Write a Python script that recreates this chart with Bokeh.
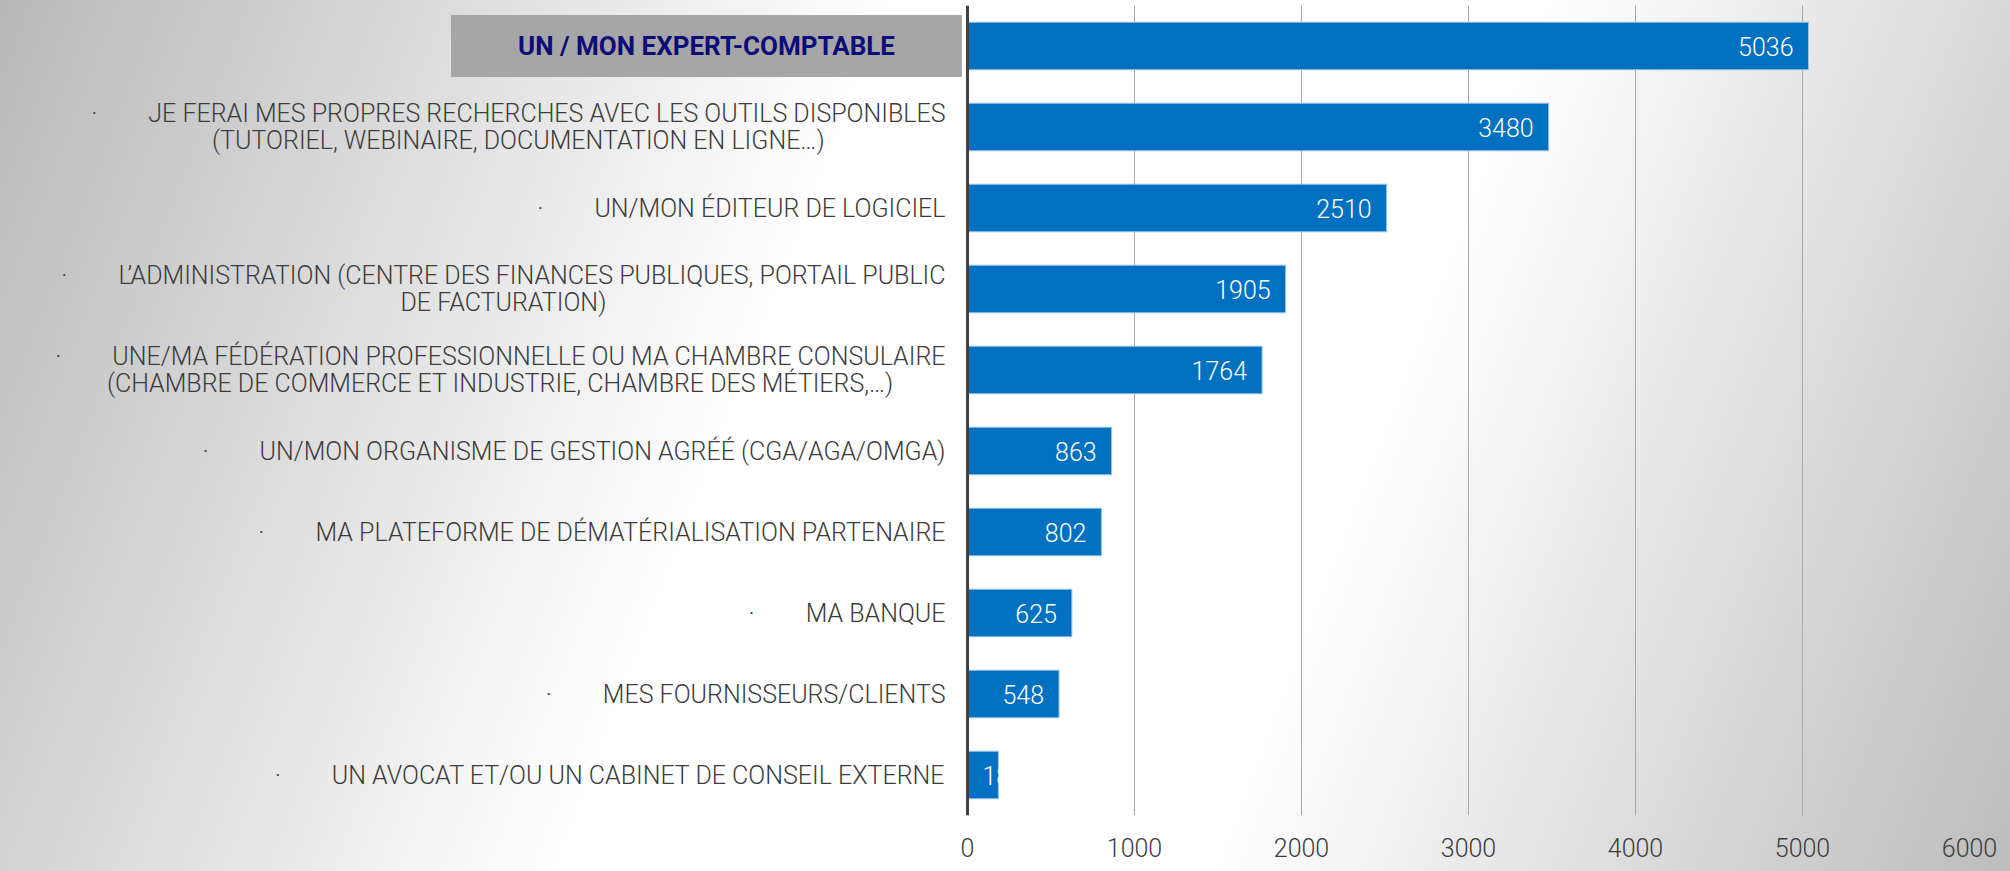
from bokeh.plotting import figure
from bokeh.models import ColumnDataSource, LabelSet, Label, FactorRange, Range1d, FixedTicker, Span
from bokeh.embed import file_html
from bokeh.resources import INLINE
from bokeh.core.properties import value

# ---------------- data ----------------
categories = [
    "UN / MON EXPERT-COMPTABLE",
    "JE FERAI MES PROPRES RECHERCHES AVEC LES OUTILS DISPONIBLES\n(TUTORIEL, WEBINAIRE, DOCUMENTATION EN LIGNE…)",
    "UN/MON ÉDITEUR DE LOGICIEL",
    "L’ADMINISTRATION (CENTRE DES FINANCES PUBLIQUES, PORTAIL PUBLIC\nDE FACTURATION)",
    "UNE/MA FÉDÉRATION PROFESSIONNELLE OU MA CHAMBRE CONSULAIRE\n(CHAMBRE DE COMMERCE ET INDUSTRIE, CHAMBRE DES MÉTIERS,…)",
    "UN/MON ORGANISME DE GESTION AGRÉÉ (CGA/AGA/OMGA)",
    "MA PLATEFORME DE DÉMATÉRIALISATION PARTENAIRE",
    "MA BANQUE",
    "MES FOURNISSEURS/CLIENTS",
    "UN AVOCAT ET/OU UN CABINET DE CONSEIL EXTERNE",
]
counts = [5036, 3480, 2510, 1905, 1764, 863, 802, 625, 548, 185]
x_ticks = [0, 1000, 2000, 3000, 4000, 5000, 6000]
highlighted = categories[0]

FONT = "Roboto Light, Roboto"
TEXT_GREY = "#3c3c3c"
BAR_BLUE = "#0070C0"

# layout (pixels): category-label area left of the value axis, plot area to its right
LABEL_AREA_PX = 967
PLOT_AREA_PX = 1002
X_MAX = 6000
x_start = -X_MAX * LABEL_AREA_PX / PLOT_AREA_PX

factors = list(reversed(categories))

p = figure(
    y_range=FactorRange(factors=factors, range_padding=0),
    x_range=Range1d(x_start, X_MAX),
    width=2010, height=871,
    min_border_left=0, min_border_right=41, min_border_top=5, min_border_bottom=56,
    output_backend="svg", toolbar_location=None, tools="",
)
p.styles = {
    "position": "fixed", "left": "0px", "top": "0px",
    "background-image": "linear-gradient(111deg, #b8b8b8 0%, #ffffff 38%, #ffffff 66%, #bcbcbc 100%)",
}
p.background_fill_color = None
p.border_fill_color = None
p.outline_line_color = None

src = ColumnDataSource(dict(cat=categories, count=counts, label=[str(c) for c in counts]))
p.hbar(y="cat", left=0, right="count", height=0.587, source=src,
       fill_color=BAR_BLUE, line_color="#9dc3e6", line_width=1)

big = [i for i, c in enumerate(counts) if c >= 300]
small = [i for i, c in enumerate(counts) if c < 300]
src_big = ColumnDataSource(dict(cat=[categories[i] for i in big], count=[counts[i] for i in big],
                                label=[str(counts[i]) for i in big]))
src_small = ColumnDataSource(dict(cat=[categories[i] for i in small], zero=[0 for i in small],
                                  label=[str(counts[i]) for i in small]))
p.add_layout(LabelSet(x="count", y="cat", text="label", source=src_big, x_offset=-15,
                      text_align="right", text_baseline="middle", text_color="white",
                      text_font=value(FONT), text_font_size="25px"))
p.add_layout(LabelSet(x="zero", y="cat", text="label", source=src_small, x_offset=15,
                      text_align="left", text_baseline="middle", text_color="white",
                      text_font=value(FONT), text_font_size="25px"))

# value axis (bottom)
xa = p.xaxis[0]
xa.ticker = FixedTicker(ticks=x_ticks)
xa.axis_line_color = None
xa.major_tick_line_color = None
xa.minor_tick_line_color = None
xa.major_label_text_font = FONT
xa.major_label_text_font_size = "25px"
xa.major_label_text_color = TEXT_GREY
xa.major_label_standoff = 16

p.yaxis.visible = False
p.ygrid.grid_line_color = None
p.xgrid.ticker = FixedTicker(ticks=x_ticks)
p.xgrid.grid_line_color = "#a8a8a8"
p.xgrid.grid_line_width = 1

# category axis line at value 0
p.add_layout(Span(location=0, dimension="height", line_color="#404040", line_width=3))

# category labels (bullet + text, lines centred within a right-anchored block)
for i, c in enumerate(categories):
    yc = factors.index(c) + 0.5
    if c == highlighted:
        p.add_layout(Label(x=0, y=yc, text=c, x_offset=-261,
                           text_align="center", text_baseline="middle",
                           text_font="Roboto", text_font_style="bold", text_font_size="26px",
                           text_color="#0c0c7a", background_fill_color="#a6a6a6",
                           padding=dict(left=67, right=67, top=16, bottom=16)))
    else:
        p.add_layout(Label(x=0, y=yc, text="·\u2003\u2003" + c, x_offset=-22,
                           anchor="center_right", text_align="center", text_baseline="middle",
                           text_font=FONT, text_font_size="25px", text_color=TEXT_GREY,
                           text_line_height=0.9))

open("out.html", "w").write(file_html(p, INLINE))
